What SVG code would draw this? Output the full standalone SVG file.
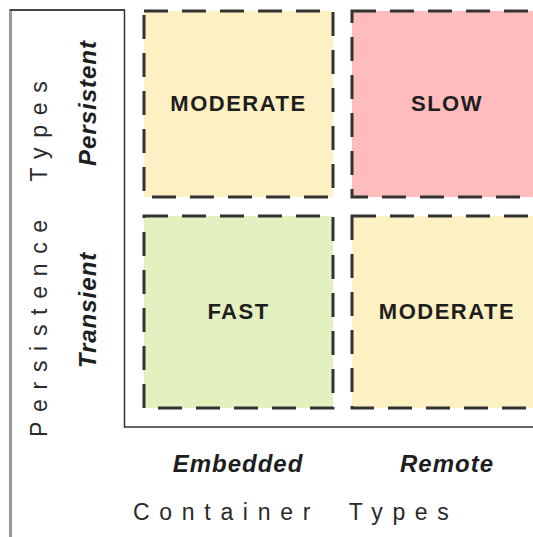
<svg xmlns="http://www.w3.org/2000/svg" width="533" height="537" viewBox="0 0 533 537">
  <style>
    .cell { stroke: #333; stroke-width: 3; stroke-dasharray: 24 14; }
    .moderate { fill: #fdf0c2; }
    .slow { fill: #ffbcbc; }
    .fast { fill: #e3f0c0; }
    .lbl { font-family: "Liberation Sans", Arial, sans-serif; font-weight: bold; font-size: 22px; letter-spacing: 1.5px; fill: #1e1e1e; text-anchor: middle; }
    .cat { font-family: "Liberation Sans", Arial, sans-serif; font-weight: bold; font-style: italic; font-size: 24px; letter-spacing: 1px; fill: #1e1e1e; text-anchor: middle; }
    .axis { font-family: "Liberation Sans", Arial, sans-serif; font-size: 23px; letter-spacing: 9.7px; word-spacing: 13px; fill: #2a2a2a; }
  </style>

  <!-- frame lines -->
  <g id="frame" fill="none">
    <line x1="10.5" y1="9" x2="10.5" y2="537" stroke="#999" stroke-width="3"/>
    <line x1="10" y1="10" x2="125" y2="10" stroke="#444" stroke-width="2"/>
    <line x1="124.5" y1="10" x2="124.5" y2="427.5" stroke="#333" stroke-width="1.5"/>
    <line x1="124" y1="427" x2="533" y2="427" stroke="#333" stroke-width="1.5"/>
  </g>

  <!-- quadrant cells -->
  <g id="cell-embedded-persistent">
    <rect class="cell moderate" x="144" y="11" width="189" height="186"/>
    <text class="lbl" x="238.5" y="111">MODERATE</text>
  </g>
  <g id="cell-remote-persistent">
    <rect class="cell slow" x="352" y="11" width="200" height="186"/>
    <text class="lbl" x="447" y="111">SLOW</text>
  </g>
  <g id="cell-embedded-transient">
    <rect class="cell fast" x="144" y="216" width="189" height="192"/>
    <text class="lbl" x="238.5" y="319">FAST</text>
  </g>
  <g id="cell-remote-transient">
    <rect class="cell moderate" x="352" y="216" width="200" height="192"/>
    <text class="lbl" x="447" y="319">MODERATE</text>
  </g>

  <!-- axis categories -->
  <g id="x-categories">
    <text class="cat" x="238" y="472">Embedded</text>
    <text class="cat" x="447" y="472">Remote</text>
  </g>
  <g id="y-categories">
    <text class="cat" transform="translate(96 103) rotate(-90)">Persistent</text>
    <text class="cat" transform="translate(96 310) rotate(-90)">Transient</text>
  </g>

  <!-- axis titles -->
  <g id="axis-titles">
    <text class="axis" x="133" y="520">Container Types</text>
    <text class="axis" transform="translate(47 437) rotate(-90)">Persistence Types</text>
  </g>
</svg>
